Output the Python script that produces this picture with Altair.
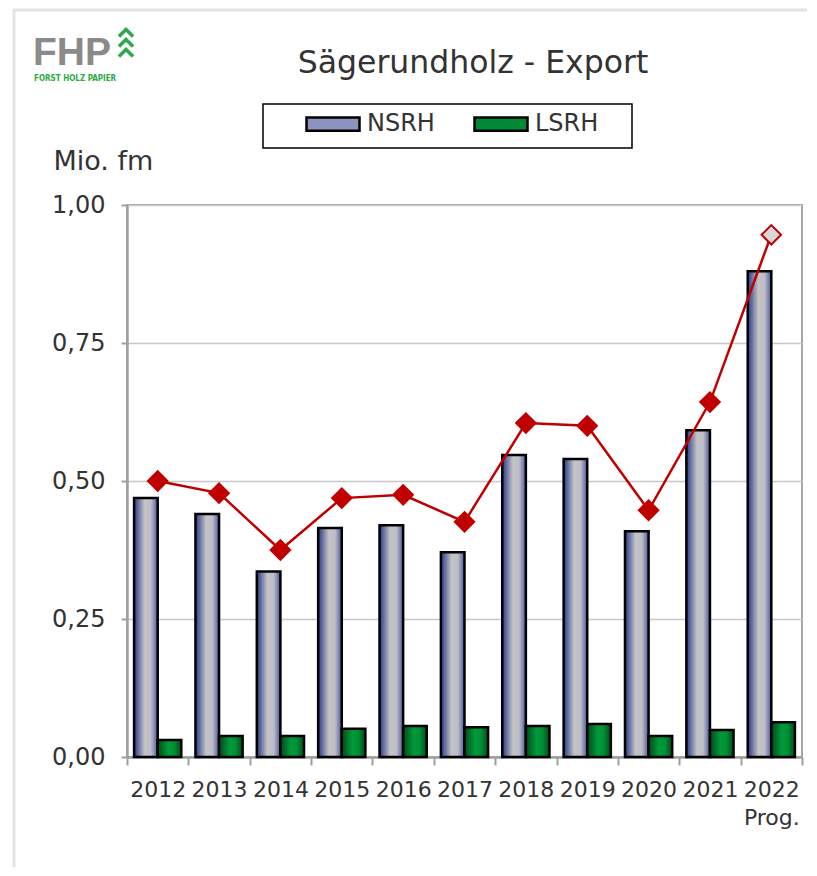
import altair as alt
import pandas as pd

# ---- data ----
years = ["2012", "2013", "2014", "2015", "2016", "2017", "2018", "2019", "2020", "2021", "2022"]
nsrh = [0.469, 0.440, 0.336, 0.415, 0.420, 0.371, 0.547, 0.540, 0.409, 0.592, 0.880]
lsrh = [0.031, 0.038, 0.038, 0.051, 0.056, 0.054, 0.056, 0.060, 0.038, 0.049, 0.063]
total = [0.500, 0.478, 0.375, 0.469, 0.475, 0.426, 0.605, 0.600, 0.447, 0.643, 0.946]
series = ["NSRH", "LSRH"]
forecast_year = "2022"
y_ticks = [0, 0.25, 0.5, 0.75, 1.0]
chart_title = "Sägerundholz - Export"

bars_df = pd.DataFrame({
    "year": years * 2,
    "series": [series[0]] * len(years) + [series[1]] * len(years),
    "value": nsrh + lsrh,
})
line_df = pd.DataFrame({"year": years, "value": total})
one = pd.DataFrame({"k": [0]})

FONT = "DejaVu Sans"
TXT = "#333333"
W, H = 675, 552

grad_n = alt.LinearGradient(
    gradient="linear", x1=0, x2=1, y1=0, y2=0,
    stops=[alt.GradientStop(offset=0, color="#26388A"),
           alt.GradientStop(offset=0.45, color="#C4C4C4"),
           alt.GradientStop(offset=0.72, color="#BDBDC6"),
           alt.GradientStop(offset=1, color="#4A56A0")])
grad_l = alt.LinearGradient(
    gradient="linear", x1=0, x2=1, y1=0, y2=0,
    stops=[alt.GradientStop(offset=0, color="#004A1C"),
           alt.GradientStop(offset=0.45, color="#009A3A"),
           alt.GradientStop(offset=0.7, color="#008F34"),
           alt.GradientStop(offset=1, color="#004A1C")])

x_enc = alt.X(
    "year:N", sort=years,
    scale=alt.Scale(domain=years, paddingInner=0, paddingOuter=0),
    axis=alt.Axis(title=None, labelAngle=0, tickBand="extent", tickSize=8,
                  labelPadding=14, labelFontSize=22, labelLineHeight=28,
                  labelExpr=f"datum.value == '{forecast_year}' ? ['{forecast_year}', 'Prog.'] : datum.value",
                  grid=False))
y_enc = alt.Y(
    "value:Q", scale=alt.Scale(domain=[0, 1]),
    axis=alt.Axis(values=y_ticks, tickSize=6, labelPadding=16, labelFontSize=24,
                  labelExpr="replace(format(datum.value, '.2f'), '.', ',')",
                  title="Mio. fm", titleAngle=0, titleX=-74, titleY=-36,
                  titleAlign="left", titleBaseline="alphabetic", titleFontSize=27,
                  titleFontWeight="normal", titleColor=TXT, titleFont=FONT))
xo_enc = alt.XOffset("series:N", sort=series,
                     scale=alt.Scale(domain=series, paddingInner=0, paddingOuter=0.3))

frame = alt.Chart(one).mark_rect(fill="transparent", stroke="#E3E3E3", strokeWidth=3).encode(
    x=alt.value(-113), x2=alt.value(W + 40), y=alt.value(-195), y2=alt.value(H + 200))

legend_box = alt.Chart(one).mark_rect(fill="white", stroke="black", strokeWidth=1.5).encode(
    x=alt.value(136), x2=alt.value(505), y=alt.value(-101), y2=alt.value(-57))

title_text = alt.Chart(one).mark_text(text=chart_title, font=FONT, fontSize=31.5, color=TXT,
                                      align="center", baseline="alphabetic").encode(
    x=alt.value(346), y=alt.value(-132))

legend_layer = alt.Chart(bars_df).mark_bar(opacity=0).encode(
    x=x_enc, y=y_enc, xOffset=xo_enc,
    color=alt.Color("series:N", sort=series,
                    scale=alt.Scale(domain=series, range=["#8C93BE", "#008A36"]),
                    legend=alt.Legend(title=None, orient="none", legendX=136, legendY=-119,
                                      direction="horizontal",
                                      symbolType="M-1,-0.25H1V0.25H-1Z", symbolSize=2809,
                                      symbolStrokeColor="black", symbolStrokeWidth=2.5,
                                      symbolOpacity=1, labelFontSize=24, labelColor=TXT,
                                      labelFont=FONT, padding=10, symbolOffset=32,
                                      labelOffset=6, columnPadding=6)))

n_layer = alt.Chart(bars_df).transform_filter(f"datum.series == '{series[0]}'").mark_bar(
    fill=grad_n, stroke="black", strokeWidth=2.5).encode(x=x_enc, y=y_enc, xOffset=xo_enc)
l_layer = alt.Chart(bars_df).transform_filter(f"datum.series == '{series[1]}'").mark_bar(
    fill=grad_l, stroke="black", strokeWidth=2.5).encode(x=x_enc, y=y_enc, xOffset=xo_enc)

line = alt.Chart(line_df).mark_line(color="#C00000", strokeWidth=2.5).encode(x=x_enc, y=y_enc)
points = alt.Chart(line_df).mark_point(shape="diamond", filled=True, size=380, stroke="#C00000",
                                       strokeWidth=2, opacity=1).encode(
    x=x_enc, y=y_enc,
    fill=alt.condition(f"datum.year == '{forecast_year}'", alt.value("#D9D9D9"), alt.value("#C00000")))

logo_fhp = alt.Chart(one).mark_text(text="FHP", font="Liberation Sans", fontSize=39, fontWeight="bold",
                                    color="#8A8A8A", align="left", baseline="alphabetic").encode(
    x=alt.value(-94), y=alt.value(-140))
logo_sub = alt.Chart(one).mark_text(text="FORST HOLZ PAPIER",
                                    font="Liberation Sans Narrow, DejaVu Sans Condensed",
                                    fontSize=8, fontWeight="bold", color="#2FA84A",
                                    align="left", baseline="alphabetic").encode(
    x=alt.value(-93), y=alt.value(-124))
chevrons = [
    alt.Chart(one).mark_point(shape="M-1,0.5L0,-0.5L1,0.5", filled=False, size=200,
                              stroke="#2FA84A", strokeWidth=3.5, opacity=1).encode(
        x=alt.value(-1), y=alt.value(cy))
    for cy in (-172, -162, -152)
]

chart = alt.layer(frame, legend_box, title_text, legend_layer, n_layer, l_layer, line, points,
                  logo_fhp, logo_sub, *chevrons).properties(
    width=W, height=H,
    autosize=alt.AutoSizeParams(type="none"),
    padding={"left": 119, "top": 197, "right": 5, "bottom": 110},
).configure(font=FONT).configure_view(
    stroke="#A6A6A6", strokeWidth=2
).configure_axis(
    domainColor="#A0A0A0", domainWidth=2.5, tickColor="#A0A0A0", tickWidth=2,
    gridColor="#C8C8C8", gridWidth=1.5, labelColor=TXT, labelFont=FONT
)

chart.save("out.html", embed_options={"renderer": "svg", "actions": False})
